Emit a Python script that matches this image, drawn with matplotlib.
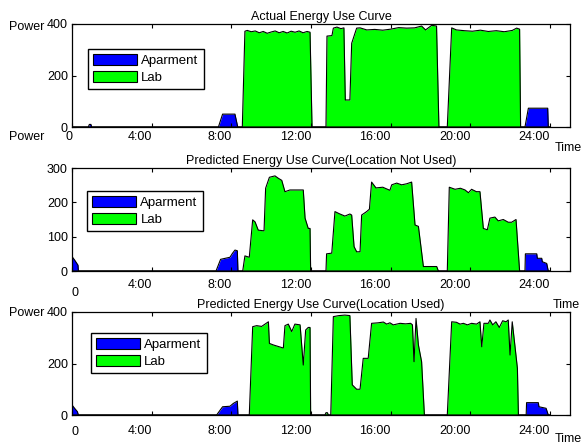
import matplotlib
matplotlib.use("Agg")
import matplotlib.pyplot as plt
from matplotlib.patches import Patch

plt.rcParams['font.family'] = ['Liberation Sans', 'DejaVu Sans']
plt.rcParams['font.size'] = 9

# time in hours, power values
tick_hours = [0, 4, 8, 12, 16, 20, 24]
tick_names = ['0', '4:00', '8:00', '12:00', '16:00', '20:00', '24:00']

# --- actual ---
apt1_t = [0, 0.82, 0.87, 0.95, 0.99, 7.35, 7.56, 8.18, 8.32, 22.74, 22.91, 23.88, 23.91, 24]
apt1_v = [0, 0, 10, 10, 0, 0, 50, 50, 0, 0, 73, 73, 0, 0]
lab1_t = [0, 8.55, 8.68, 8.8, 9.0, 9.2, 9.4, 9.6, 9.8, 10.0, 10.2, 10.4, 10.6, 10.8,
          11.0, 11.2, 11.4, 11.6, 11.8, 11.95, 12.05,
          12.75, 12.8, 13.05, 13.12, 13.3, 13.5, 13.65, 13.72, 13.95, 14.04, 14.29,
          14.46, 14.8, 15.2, 15.6, 16.0, 16.4, 16.8, 17.2, 17.55, 17.75, 18.06, 18.3, 18.42,
          18.84, 19.06, 19.3, 19.7, 20.1, 20.5, 20.9, 21.3, 21.7, 22.1, 22.32, 22.47, 22.52, 24]
lab1_v = [0, 0, 372, 375, 370, 373, 366, 371, 364, 369, 373, 366, 371, 365,
          372, 368, 373, 366, 371, 368, 0,
          0, 353, 355, 384, 388, 382, 385, 105, 105, 325, 384,
          385, 377, 379, 376, 380, 386, 384, 385, 392, 377, 395, 392, 0,
          0, 385, 377, 374, 372, 376, 371, 374, 370, 375, 384, 380, 0, 0]

# --- predicted, location not used ---
apt2_t = [0, 0.13, 0.3, 0.32, 7.23, 7.46, 7.93, 8.05, 8.18, 8.3, 8.33,
          22.74, 22.76, 23.33, 23.36, 23.58, 23.61, 23.83, 23.91, 24]
apt2_v = [42, 32, 17, 0, 0, 34, 40, 51, 61, 59, 0,
          0, 50, 50, 37, 37, 27, 22, 0, 0]
lab2_t = [0, 8.57, 8.68, 8.9, 9.07, 9.19, 9.35, 9.64, 9.72, 9.91, 10.05, 10.19, 10.36,
          10.53, 10.69, 10.94, 11.28, 11.61, 11.7, 11.86, 11.95, 11.98,
          12.75, 12.78, 13.04, 13.2, 13.45, 13.7, 13.95, 14.04, 14.16, 14.29, 14.46,
          14.54, 14.79, 14.93, 15.04, 15.26, 15.6, 15.96, 16.05, 16.3, 16.55, 16.8, 17.05,
          17.22, 17.39, 17.64, 18.31, 18.39,
          18.84, 18.94, 19.23, 19.5, 19.73, 19.9, 20.06, 20.3, 20.48, 20.65, 20.85, 20.98,
          21.23, 21.4, 21.65, 21.9, 22.07, 22.29, 22.47, 24]
lab2_v = [0, 0, 44, 40, 149, 143, 119, 117, 241, 273, 275, 277, 270,
          264, 231, 236, 236, 236, 154, 124, 124, 0,
          0, 50, 52, 173, 166, 160, 166, 163, 71, 56, 56,
          163, 173, 180, 259, 242, 244, 235, 251, 256, 251, 254, 259,
          134, 130, 13, 13, 0,
          0, 244, 238, 241, 236, 228, 238, 231, 231, 124, 120, 154,
          157, 146, 150, 142, 142, 150, 0, 0]

# --- predicted, location used ---
apt3_t = [0, 0.13, 0.27, 0.32, 7.26, 7.56, 7.93, 8.1, 8.3, 8.33,
          22.8, 22.82, 23.41, 23.44, 23.8, 23.91, 24]
apt3_v = [39, 26, 13, 0, 0, 32, 34, 45, 54, 0,
          0, 48, 48, 32, 26, 0, 0]
lab3_t = [0, 8.9, 9.07, 9.27, 9.52, 9.69, 9.86, 9.91, 10.11, 10.36, 10.61, 10.69, 10.86,
          11.03, 11.19, 11.45, 11.61, 11.73, 11.86, 11.95, 11.98,
          12.7, 12.75, 12.82, 12.87, 12.99, 13.12, 13.4, 13.7, 13.95, 14.07, 14.29, 14.46,
          14.62, 14.87, 15.04, 15.37, 15.63, 15.8, 15.96, 16.13, 16.47, 16.75, 17.0, 17.09,
          17.17, 17.27, 17.39, 17.55, 17.69,
          18.84, 19.06, 19.3, 19.48, 19.65, 19.85, 20.06, 20.31, 20.48, 20.57, 20.68, 20.9,
          20.98, 21.12, 21.28, 21.45, 21.62, 21.79, 21.9, 21.99, 22.1, 22.24, 22.36, 22.41, 24]
lab3_v = [0, 0, 343, 347, 344, 353, 362, 278, 272, 266, 260, 347, 353,
          324, 353, 350, 194, 330, 340, 340, 0,
          0, 9, 9, 0, 0, 382, 386, 388, 386, 117, 100, 100,
          220, 220, 356, 358, 361, 353, 358, 350, 356, 354, 356, 350,
          207, 375, 272, 207, 0,
          0, 362, 360, 353, 356, 350, 356, 353, 362, 265, 356, 356,
          369, 350, 362, 340, 366, 362, 369, 233, 362, 265, 181, 0, 0]

panels = [
    dict(apt=(apt1_t, apt1_v), lab=(lab1_t, lab1_v), ymax=400, yticks=[0, 200, 400],
         title='Actual Energy Use Curve', top=24, bottom=127, leg=(0.032, 0.757), pad=3),
    dict(apt=(apt2_t, apt2_v), lab=(lab2_t, lab2_v), ymax=300, yticks=[0, 100, 200, 300],
         title='Predicted Energy Use Curve(Location Not Used)', top=168, bottom=271,
         leg=(0.030, 0.777), pad=6),
    dict(apt=(apt3_t, apt3_v), lab=(lab3_t, lab3_v), ymax=400, yticks=[0, 200, 400],
         title='Predicted Energy Use Curve(Location Used)', top=312, bottom=415,
         leg=(0.038, 0.796), pad=7),
]

W, H = 585, 445
fig = plt.figure(figsize=(W / 100, H / 100), dpi=100)

for i, p in enumerate(panels):
    ax = fig.add_axes([72 / W, 1 - p['bottom'] / H, 498 / W, (p['bottom'] - p['top']) / H])
    t, v = p['apt']
    ax.fill_between(t, v, color=(0, 0, 1), linewidth=0)
    ax.plot(t, v, color='k', lw=0.8)
    t, v = p['lab']
    ax.fill_between(t, v, color=(0, 1, 0), linewidth=0)
    ax.plot(t, v, color='k', lw=0.8)

    ax.set_xlim(0, 25)
    ax.set_ylim(0, p['ymax'])
    ax.set_yticks(p['yticks'])
    ax.set_xticks(tick_hours)
    names = tick_names if i == 0 else [''] + tick_names[1:]
    ax.set_xticklabels(names, ha='right')
    ax.tick_params(direction='in', length=3, width=0.8, top=True, right=True,
                   labelsize=9, color='k')
    ax.tick_params(axis='x', pad=p['pad'])
    ax.tick_params(axis='y', pad=3)
    for s in ax.spines.values():
        s.set_linewidth(0.9)
    ax.set_title(p['title'], fontsize=9, pad=3)

    handles = [Patch(facecolor=(0, 0, 1), edgecolor='k', lw=0.8),
               Patch(facecolor=(0, 1, 0), edgecolor='k', lw=0.8)]
    leg = ax.legend(handles, ['Aparment', 'Lab'], loc='upper left',
                    bbox_to_anchor=p['leg'], borderaxespad=0, fancybox=False,
                    edgecolor='k', framealpha=1, fontsize=9.5, handlelength=3.3,
                    handleheight=0.85, handletextpad=0.35, labelspacing=0.3,
                    borderpad=0.4)
    leg.get_frame().set_linewidth(1.0)

# loose labels around the axes
def ftext(x, y, s, **kw):
    fig.text(x / W, 1 - y / H, s, fontsize=9, va='center', **kw)

ftext(9, 27, 'Power')
ftext(9, 137, 'Power')
ftext(555, 148, 'Time')
ftext(72, 293, '0')
ftext(9, 313, 'Power')
ftext(553, 305, 'Time')
ftext(72, 432, '0')
ftext(555, 439, 'Time')

fig.savefig('out.png', dpi=100)
